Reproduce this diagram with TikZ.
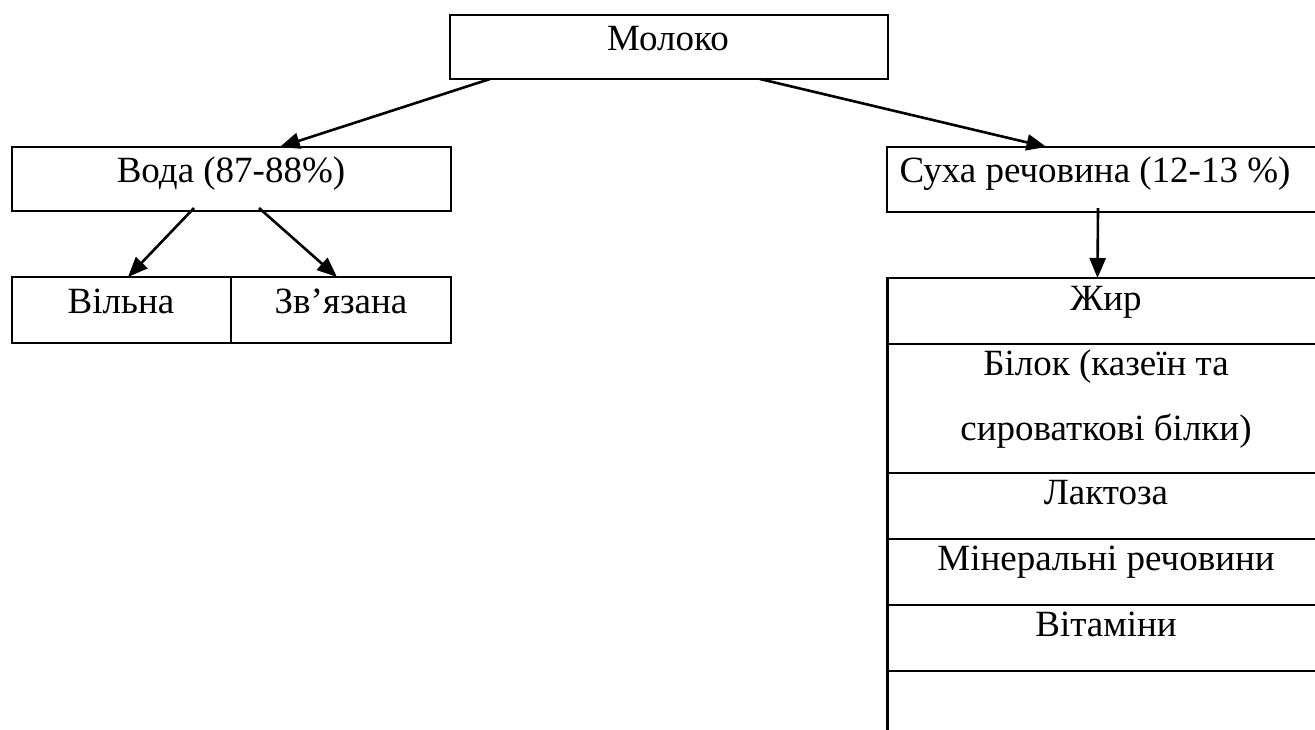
\documentclass[tikz,border=0pt]{standalone}
\usepackage{fontspec}
\setmainfont{Liberation Serif}
\usetikzlibrary{arrows.meta,calc}
\tikzset{
  box/.style={draw=black, line width=1.3pt, rectangle, inner sep=0pt, outer sep=0pt},
  txt/.style={anchor=base, inner sep=0pt, font=\fontsize{18.5}{22}\selectfont},
  conn/.style={line width=1.3pt, -{Triangle[length=10pt,width=8pt]}}
}
\begin{document}
\begin{tikzpicture}[x=0.5pt,y=-0.5pt]
\clip (0,0) rectangle (1315,729);
\fill[white] (0,0) rectangle (1315,729);
% boxes
\node[box, minimum width=219pt, minimum height=32pt] (moloko) at (669,47) {};
\node[box, minimum width=219.5pt, minimum height=32pt] (voda) at (231.5,179) {};
\node[box, minimum width=109.5pt, minimum height=33pt] (vilna) at (121.5,310) {};
\node[box, minimum width=110pt, minimum height=33pt] (zviaz) at (341,310) {};
\node[box, minimum width=221.5pt, minimum height=32.5pt] (sukha) at (1108.5,179.5) {};
\node[box, minimum width=221pt, minimum height=33pt] (r1) at (1108.5,311) {};
\node[box, minimum width=221pt, minimum height=64.5pt] (r2) at (1108.5,408.5) {};
\node[box, minimum width=221pt, minimum height=33pt] (r3) at (1108.5,506) {};
\node[box, minimum width=221pt, minimum height=33pt] (r4) at (1108.5,572) {};
\node[box, minimum width=221pt, minimum height=33pt] (r5) at (1108.5,638) {};
\node[box, minimum width=221pt, minimum height=50pt] (r6) at (1108.5,721) {};
% texts
\node[txt] (tmoloko) at (668,50) {Молоко};
\node[txt] (tvoda) at (231,182) {Вода (87-88\%)};
\node[txt] (tvilna) at (121,313) {Вільна};
\node[txt] (tzviaz) at (341,313) {Зв’язана};
\node[txt] (tsukha) at (1095,182) {Суха речовина (12-13 \%)};
\node[txt] (tzhyr) at (1106,310) {Жир};
\node[txt] (tbilok) at (1106,375) {Білок (казеїн та};
\node[txt] (tsyr) at (1106,440) {сироваткові білки)};
\node[txt] (tlakt) at (1106,504) {Лактоза};
\node[txt] (tmin) at (1106,570) {Мінеральні речовини};
\node[txt] (tvit) at (1106,636) {Вітаміни};
% connectors
\draw[conn] ($(moloko.south west)!0.0913!(moloko.south east)$) -- ($(voda.north west)!0.61!(voda.north east)$);
\draw[conn] ($(moloko.south west)!0.7078!(moloko.south east)$) -- ($(sukha.north west)!0.36!(sukha.north east)$);
\draw[conn] ($(voda.south west)+(182,-3)$) -- ($(vilna.north west)+(116,0)$);
\draw[conn] ($(voda.south west)+(247,-3)$) -- ($(zviaz.north west)+(106,0)$);
\draw[conn] ($(sukha.south west)+(211,-4)$) -- ($(r1.north west)+(210,0)$);
\end{tikzpicture}
\end{document}
